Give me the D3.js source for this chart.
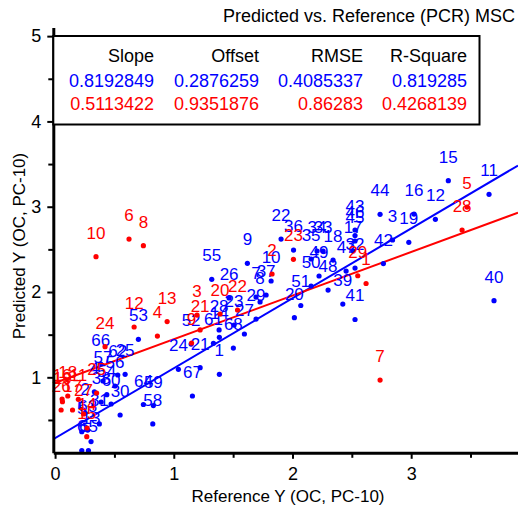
<!DOCTYPE html>
<html>
<head>
<meta charset="utf-8">
<script src="https://cdnjs.cloudflare.com/ajax/libs/d3/7.8.5/d3.min.js"></script>
<style>
    body { margin: 0; background: #fff; }
    svg { display: block; font-family: "Liberation Sans", Arial, sans-serif; }
</style>
</head>
<body>
<svg id="chart" width="518" height="510"></svg>
<script>
// calibration set (blue) and validation set (red), sample id / reference / predicted
const blueIds = [1,2,3,4,5,6,7,8,9,10,11,12,13,14,15,16,17,18,19,20,21,22,23,24,25,26,27,28,29,30,31,32,33,34,
    35,36,37,38,39,40,41,42,43,44,45,46,47,48,49,50,51,52,53,54,55,56,57,58,59,60,61,62,63,64,65,66,67,68];
const blueRef = [1.384,0.253,2.843,0.331,0.225,0.225,1.693,1.727,1.620,1.820,3.656,3.204,0.303,1.384,3.313,3.024,
    2.511,2.342,2.980,2.016,1.222,1.904,1.508,1.039,0.590,1.466,1.595,1.382,1.693,0.548,0.373,2.527,2.258,2.207,
    2.157,2.009,1.778,0.388,2.424,3.698,2.527,2.766,2.527,2.738,2.527,2.527,2.452,2.300,2.224,2.157,2.070,1.146,
    0.702,0.436,1.320,0.505,0.404,0.823,0.828,0.472,1.334,0.528,0.275,0.744,0.281,0.385,1.157,1.502];
const bluePred = [1.035,0.581,2.610,0.831,0.362,0.142,1.941,1.883,2.336,2.129,3.145,2.852,0.247,1.469,3.305,2.914,
    2.481,2.375,2.583,1.699,1.113,2.621,1.613,1.094,1.035,1.930,1.508,1.555,1.683,0.558,0.453,2.281,2.481,2.481,
    2.387,2.492,1.965,0.710,1.859,1.898,1.678,2.334,2.727,2.911,2.598,2.662,2.246,2.023,2.188,2.070,1.842,1.390,
    1.445,0.796,2.149,0.898,0.957,0.453,0.669,0.687,1.399,1.027,0.382,0.681,0.142,1.156,0.781,1.343];

const redIds = [1,2,3,4,5,6,7,8,9,10,11,12,13,14,15,16,17,18,19,20,21,22,23,24,25,26,27,28,29];
const redRef = [2.620,1.828,1.196,0.862,3.471,0.623,2.738,0.744,1.150,0.345,0.196,0.666,0.944,0.270,0.267,
    0.059,0.147,0.107,0.062,1.390,1.222,1.537,2.008,0.421,0.350,0.051,0.240,3.429,2.550];
const redPred = [2.100,2.211,1.730,1.484,2.996,2.621,0.968,2.543,1.402,2.414,0.742,1.590,1.654,0.406,0.304,
    0.746,0.617,0.781,0.714,1.742,1.555,1.789,2.383,1.359,0.816,0.617,0.570,2.727,2.191];

const statHeaders = ['Slope', 'Offset', 'RMSE', 'R-Square'];
const blueStats = ['0.8192849', '0.2876259', '0.4085337', '0.819285'];
const redStats = ['0.5113422', '0.9351876', '0.86283', '0.4268139'];
const fitSlope = [0.8192849, 0.5113422];
const fitOffset = [0.2876259, 0.9351876];

const xTicks = [0, 1, 2, 3];
const xMinorTicks = [0.5, 1.5, 2.5, 3.5];
const yTicks = [1, 2, 3, 4, 5];
const yMinorTicks = [0.5, 1.5, 2.5, 3.5, 4.5];

const BLUE = '#0000ff';
const RED = '#ff0000';

let svg = d3.select('#chart');

let x = d3.scaleLinear().domain([-0.015, 3.9]).range([53.3, 518]);
let y = d3.scaleLinear().domain([0.115, 5.1]).range([452.8, 27.6]);

svg.append('clipPath').attr('id', 'plot-clip')
    .append('rect')
    .attr('x', x.range()[0]).attr('y', y.range()[1])
    .attr('width', x.range()[1] - x.range()[0])
    .attr('height', y.range()[0] - y.range()[1]);

// regression lines
let fits = [
    {'slope': fitSlope[0], 'offset': fitOffset[0], 'color': BLUE},
    {'slope': fitSlope[1], 'offset': fitOffset[1], 'color': RED}
];
svg.append('g').attr('clip-path', 'url(#plot-clip)')
    .selectAll('line').data(fits).enter().append('line')
    .attr('x1', x(x.domain()[0]))
    .attr('x2', x(x.domain()[1]))
    .attr('y1', d => y(d.offset + d.slope * x.domain()[0]))
    .attr('y2', d => y(d.offset + d.slope * x.domain()[1]))
    .style('stroke', d => d.color)
    .style('stroke-width', 2);

function drawSeries(ids, ref, pred, color)
{
    let pts = ids.map((id, i) => ({'id': id, 'x': ref[i], 'y': pred[i]}));
    let g = svg.append('g');

    g.selectAll('circle').data(pts).enter().append('circle')
        .attr('cx', d => x(d.x))
        .attr('cy', d => y(d.y))
        .attr('r', 2.6)
        .style('fill', color);

    g.selectAll('text').data(pts).enter().append('text')
        .attr('x', d => x(d.x))
        .attr('y', d => y(d.y) - 18)
        .attr('text-anchor', 'middle')
        .style('font-size', '17px')
        .style('fill', color)
        .text(d => d.id);
}

drawSeries(blueIds, blueRef, bluePred, BLUE);
drawSeries(redIds, redRef, redPred, RED);

// axes
svg.append('g').attr('transform', 'translate(0,' + y.range()[0] + ')')
    .call(d3.axisBottom(x).tickValues(xTicks).tickSize(6).tickSizeOuter(0).tickPadding(8).tickFormat(d3.format('d')));
svg.append('g').attr('transform', 'translate(0,' + y.range()[0] + ')')
    .call(d3.axisBottom(x).tickValues(xMinorTicks).tickSize(5).tickFormat(''))
    .select('.domain').remove();

svg.append('g').attr('transform', 'translate(' + x.range()[0] + ',0)')
    .call(d3.axisLeft(y).tickValues(yTicks).tickSize(6).tickSizeOuter(0).tickPadding(6).tickFormat(d3.format('d')));
svg.append('g').attr('transform', 'translate(' + x.range()[0] + ',0)')
    .call(d3.axisLeft(y).tickValues(yMinorTicks).tickSize(5).tickFormat(''))
    .select('.domain').remove();

svg.selectAll('.domain').style('stroke', '#000').style('stroke-width', 3);
svg.selectAll('.tick line').style('stroke', '#000').style('stroke-width', 2);
svg.selectAll('.tick text').style('font-size', '18px').style('font-family', '"Liberation Sans", Arial, sans-serif').style('fill', '#000');

// axis titles
svg.append('text')
    .attr('x', 288).attr('y', 502)
    .attr('text-anchor', 'middle')
    .style('font-size', '17px')
    .text('Reference Y (OC, PC-10)');

svg.append('text')
    .attr('transform', 'translate(25,246) rotate(-90)')
    .attr('text-anchor', 'middle')
    .style('font-size', '17px')
    .text('Predicted Y (OC, PC-10)');

svg.append('text')
    .attr('x', 515).attr('y', 22)
    .attr('text-anchor', 'end')
    .style('font-size', '18px')
    .text('Predicted vs. Reference (PCR) MSC');

// statistics box
svg.append('rect')
    .attr('x', 53.3).attr('y', 36)
    .attr('width', 426.2).attr('height', 88.5)
    .style('fill', '#fff')
    .style('stroke', '#000')
    .style('stroke-width', 2);

let colRight = [154, 259, 363, 467];
let rows = [
    {'values': statHeaders, 'color': '#000', 'base': 62},
    {'values': blueStats, 'color': BLUE, 'base': 87},
    {'values': redStats, 'color': RED, 'base': 110}
];
rows.forEach(function(row){
    svg.append('g').selectAll('text').data(row.values).enter().append('text')
        .attr('x', (d, i) => colRight[i])
        .attr('y', row.base)
        .attr('text-anchor', 'end')
        .style('font-size', '18px')
        .style('fill', row.color)
        .text(d => d);
});
</script>
</body>
</html>
